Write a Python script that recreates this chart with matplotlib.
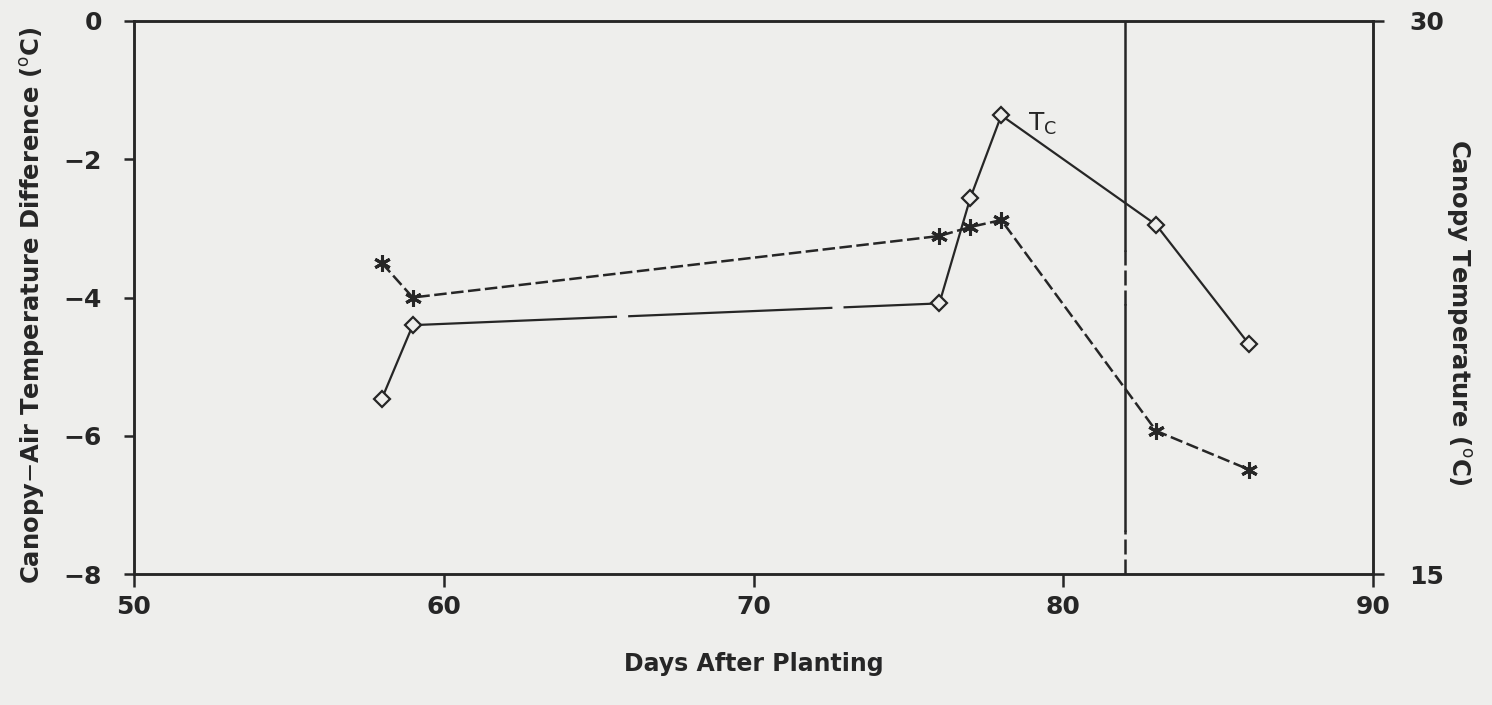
import numpy as np
import matplotlib
matplotlib.use("Agg")
import matplotlib.pyplot as plt

# DATA
days = [58, 59, 76, 77, 78, 83, 86]
tc = [19.75, 21.75, 22.34, 25.2, 27.44, 24.47, 21.23]          # canopy temp, right axis
dtemp = [-3.50, -4.00, -3.11, -2.98, -2.88, -5.93, -6.49]       # canopy-air diff, left axis
event_day = 82

xticks = [50, 60, 70, 80, 90]
yticks_left = [0, -2, -4, -6, -8]
yticks_right = [15, 30]

bg = "#eeeeec"
ink = "#262626"

plt.rcParams["font.family"] = ["DejaVu Sans"]

fig = plt.figure(figsize=(14.92, 7.05), dpi=100, facecolor=bg)
ax = fig.add_axes([134 / 1492, 1 - 574 / 705, 1239 / 1492, 553 / 705])
ax.set_facecolor(bg)
ax2 = ax.twinx()

ax.set_xlim(50, 90)
ax.set_ylim(-8, 0)
ax2.set_ylim(15, 30)

# vertical marker line (partly dashed in the original)
ax.axvline(event_day, ymin=0.586, ymax=1, color=ink, lw=1.8)
ax.axvline(event_day, ymin=0.486, ymax=0.586, color=ink, lw=1.8, dashes=(6, 2))
ax.axvline(event_day, ymin=0.08, ymax=0.486, color=ink, lw=1.8)
ax.axvline(event_day, ymin=0.0, ymax=0.08, color=ink, lw=1.8, dashes=(6, 2))

# canopy-air temperature difference (asterisks, dashed)
ax.plot(days, dtemp, color=ink, lw=1.8, dashes=(5, 1.8),
        marker=(6, 2, 0), markersize=12, markeredgewidth=2.2, zorder=3)

# canopy temperature Tc (diamonds)
d = np.array(days)
t = np.array(tc)
ax2.plot(d[:2], t[:2], color=ink, lw=1.6)
ax2.plot(d[1:3], t[1:3], color=ink, lw=1.6, dashes=(92, 5))
ax2.plot(d[2:], t[2:], color=ink, lw=1.6)
ax2.plot(d, t, linestyle="none", marker="D", markersize=8.5,
         markerfacecolor=bg, markeredgecolor=ink, markeredgewidth=1.6, zorder=4)

ax2.text(78.85, 27.2, r"T$_\mathrm{C}$", fontsize=18, color=ink,
         ha="left", va="center")

# axes styling
for a in (ax, ax2):
    for s in a.spines.values():
        s.set_linewidth(1.8)
        s.set_color(ink)

ax.set_xticks(xticks)
ax.set_yticks(yticks_left)
ax.set_yticklabels(["0", "\u22122", "\u22124", "\u22126", "\u22128"])
ax2.set_yticks(yticks_right)

ax.tick_params(axis="x", direction="out", length=9, width=1.8, pad=6,
               labelsize=18, colors=ink)
ax.tick_params(axis="y", direction="out", length=7, width=1.8, pad=16,
               labelsize=18, colors=ink)
ax2.tick_params(axis="y", direction="out", length=8, width=1.8, pad=18,
                labelsize=18, colors=ink)
for lab in ax.get_xticklabels() + ax.get_yticklabels() + ax2.get_yticklabels():
    lab.set_fontweight("bold")

ax.set_xlabel("Days After Planting", fontsize=17, fontweight="bold", color=ink)
ax.xaxis.set_label_coords(0.5, -0.141)

fig.text(33 / 1492, 1 - 305 / 705, r"Canopy$-$Air Temperature Difference ($^\mathrm{o}$C)",
         rotation=90, ha="center", va="center", fontsize=17.5, fontweight="bold", color=ink)
fig.text(1458 / 1492, 1 - 312 / 705, r"Canopy Temperature ($^\mathrm{o}$C)",
         rotation=270, ha="center", va="center", fontsize=17.5, fontweight="bold", color=ink)

fig.savefig("out.png", dpi=100, facecolor=bg)
